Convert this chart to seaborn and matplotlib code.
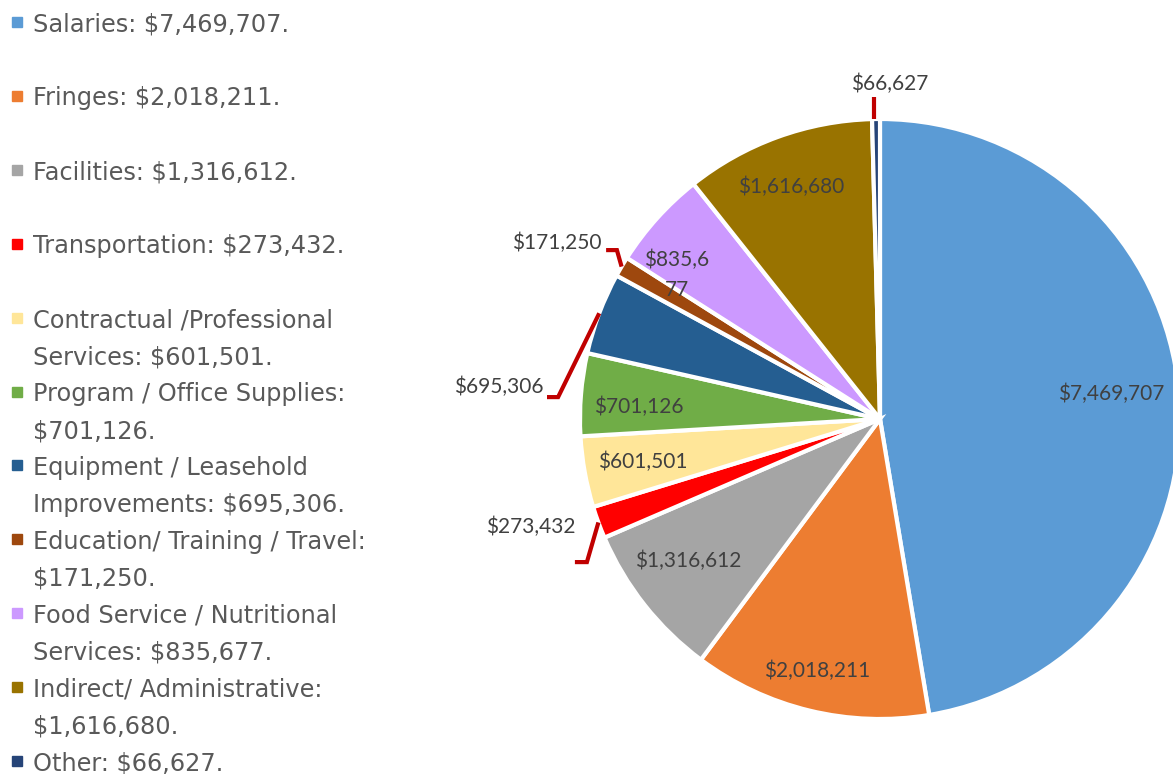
import textwrap
import numpy as np
import matplotlib
matplotlib.use("Agg")
import matplotlib.pyplot as plt
import seaborn as sns

# ---- data ----
categories = ["Salaries", "Fringes", "Facilities", "Transportation",
              "Contractual /Professional Services", "Program / Office Supplies",
              "Equipment / Leasehold Improvements", "Education/ Training / Travel",
              "Food Service / Nutritional Services", "Indirect/ Administrative", "Other"]
values = [7469707, 2018211, 1316612, 273432, 601501, 701126, 695306, 171250,
          835677, 1616680, 66627]
colors = ["#5B9BD5", "#ED7D31", "#A5A5A5", "#FF0000", "#FFE699", "#70AD47",
          "#255E91", "#9E480E", "#CC99FF", "#997300", "#264478"]

sns.set_theme(style="white")
plt.rcParams['font.family'] = ['DejaVu Sans']

W, H = 1173, 774
fig = plt.figure(figsize=(W / 100, H / 100), dpi=100)
fig.patch.set_facecolor("white")

# pie axes: centre (880, 419) px, radius 300 px
cx, cy, R = 880, 419, 300
ax = fig.add_axes([(cx - R) / W, (H - cy - R) / H, 2 * R / W, 2 * R / H])
ax.axis("off")

wedges, _ = ax.pie(values, colors=colors, startangle=90, counterclock=False,
                   radius=1.0, wedgeprops=dict(edgecolor="white", linewidth=3),
                   center=(0, 0))
ax.set_xlim(-1, 1)
ax.set_ylim(-1, 1)
ax.set_aspect("equal")

label_font = dict(family=["Lato", "DejaVu Sans"], fontsize=15, color="#404040")
leader_color = "#C00000"

# inside labels: (radial distance, angular shift in degrees)
inside = {0: (0.775, 1.5), 1: (0.866, -0.3), 2: (0.796, -1.8), 4: (0.802, 0.0),
          5: (0.805, 1.7), 8: (0.83, 6.7), 9: (0.828, 1.1)}
# outside labels: (elbow, end of leader, label centre) in pie units
outside = {
    3: [(-0.977, -0.477), (-1.017, -0.477), (-1.163, -0.36)],
    6: [(-1.073, 0.073), (-1.11, 0.073), (-1.27, 0.107)],
    7: [(-0.877, 0.563), (-0.913, 0.563), (-1.077, 0.587)],
    10: [(-0.02, 1.073), (-0.02, 1.073), (0.033, 1.117)],
}
wrap_width = {8: 6}

for i, (w, v) in enumerate(zip(wedges, values)):
    mid_deg = (w.theta1 + w.theta2) / 2
    txt = f"${v:,}"
    if i in wrap_width:
        txt = "\n".join(textwrap.wrap(txt, wrap_width[i]))
    if i in inside:
        r, d = inside[i]
        a = np.deg2rad(mid_deg + d)
        ax.text(r * np.cos(a), r * np.sin(a), txt, ha="center", va="center",
                linespacing=1.6, **label_font)
    elif i in outside:
        (ex, ey), (tx, ty), (lx, ly) = outside[i]
        a = np.deg2rad(mid_deg)
        sx, sy = np.cos(a), np.sin(a)
        if i == 10:
            sx = ex
        ax.plot([sx, ex, tx], [sy, ey, ty], color=leader_color, lw=3,
                solid_capstyle="butt", solid_joinstyle="miter", clip_on=False)
        ax.text(lx, ly, txt, ha="center", va="center", clip_on=False, **label_font)

# ---- legend ----
legend_font = dict(family=["DejaVu Sans"], fontsize=17.3, color="#595959")
y0, step, lead = 22, 73.9, 37
for i, (cat, v, c) in enumerate(zip(categories, values, colors)):
    lines = textwrap.wrap(f"{cat}: ${v:,}.", 29)
    ytop = y0 + i * step
    fig.patches.append(plt.Rectangle((12 / W, 1 - (ytop + 5) / H), 10 / W, 10 / H,
                                     transform=fig.transFigure, color=c,
                                     figure=fig))
    for k, ln in enumerate(lines):
        fig.text(33 / W, 1 - (ytop + k * lead) / H, ln, ha="left",
                 va="center_baseline", **legend_font)

fig.savefig("out.png", dpi=100, facecolor="white")
